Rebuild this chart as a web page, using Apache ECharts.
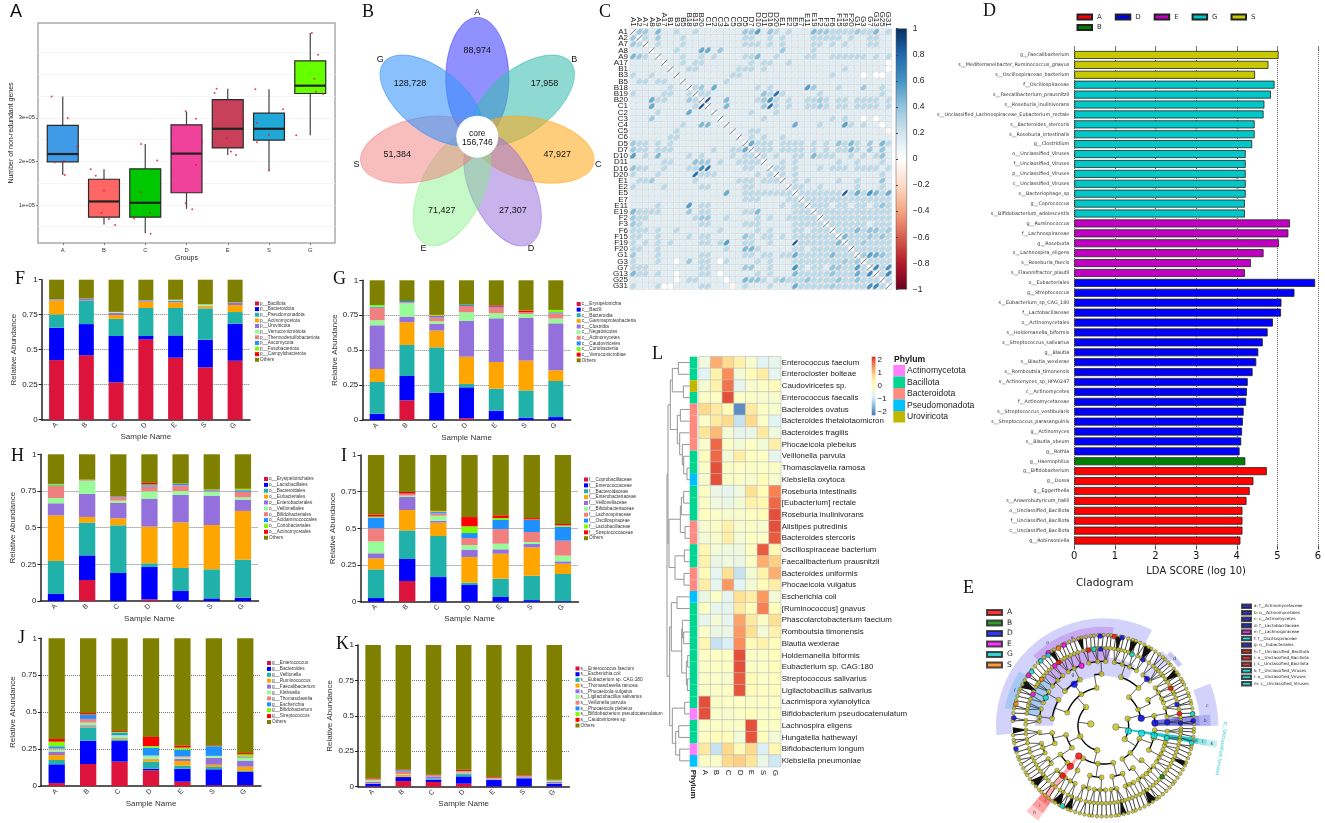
<!DOCTYPE html>
<html><head><meta charset="utf-8"><title>Multi-panel microbiome figure</title>
<script src="https://cdn.jsdelivr.net/npm/echarts@6/dist/echarts.min.js"></script>
<style>html,body{margin:0;background:#fff}#c{width:1325px;height:823px}</style></head>
<body><div id="c"></div>
<script>
// ---------- A: boxplots
const A_groups=['A','B','C','D','E','S','G'];
const A_low =[1.69,0.55,0.35,0.91,2.15,1.79,2.60];
const A_q1  =[1.99,0.72,0.72,1.28,2.31,2.49,3.56];
const A_med =[2.17,1.08,1.05,2.18,2.75,2.75,3.74];
const A_q3  =[2.83,1.59,1.83,2.84,3.42,3.11,4.31];
const A_high=[3.49,1.82,2.40,3.14,3.67,3.66,4.95];
const A_fill=['#3f9ae8','#ff6666','#00c800','#f0429a','#c8405a','#1fa8d8','#66ff00'];
const A_points=[[[-.27,3.49],[.12,3.0],[.35,2.34],[-.19,1.98],[.03,2.01],[.05,1.69]],
[[-.32,1.82],[-.2,1.67],[0,1.33],[-.06,.82],[.12,.68],[.27,.54]],
[[-.1,2.40],[.29,2.02],[-.11,1.29],[.12,.82],[-.27,.69],[.13,.34]],
[[-.02,3.15],[.23,2.98],[.38,2.45],[.23,1.92],[-.02,1.04],[.14,.9]],
[[-.27,3.67],[-.32,3.57],[.36,2.98],[-.03,2.53],[.08,2.23],[.2,2.15]],
[[-.33,3.66],[.34,3.2],[-.29,2.88],[0,2.61],[-.29,2.44],[0,1.79]],
[[.04,4.95],[.19,4.45],[.1,3.9],[.14,3.6],[.31,3.55],[-.34,2.6]]];
// ---------- B: flower
const B_names=['A','B','C','D','E','S','G'];
const B_counts=['88,974','17,958','47,927','27,307','71,427','51,384','128,728'];
const B_fill=['rgba(70,70,255,.6)','rgba(60,190,175,.58)','rgba(255,170,30,.58)','rgba(150,110,220,.52)','rgba(130,240,130,.45)','rgba(240,120,120,.48)','rgba(60,150,250,.6)'];
const B_core='156,746';
// ---------- C: correlation
const C_labels=['A1','A2','A7','A8','A9','A17','B1','B3','B5','B18','B19','B20','C1','C2','C3','C4','C5','C6','D5','D7','D10','D11','D16','D20','E1','E2','E5','E7','E11','E19','F2','F3','F6','F15','F19','F20','G1','G3','G7','G13','G25','G31'];
const C_rows=[
".331411211 2111111133 5142121114 3322223224 12",
"..21311121 1111111122 1121211112 2222121122 11",
"...1211121 1111111122 2121211112 2121211122 11",
"....111211 1111311111 1111311112 1111111111 11",
".....11121 1212111122 4112111122 1122222212 12",
"......1121 2211111112 1221121111 1111111111 10",
".......112 2111111222 1211111111 1111211111 10",
"........11 1111112211 1111111111 1121111010 01",
".........1 1111121111 1111111111 1111111111 11",
".......... 2312111111 2121111113 1112111311 21",
".......... .221111111 1123211111 2111111111 21",
".......... ..21131111 2312121122 3212212222 12",
".......... ...1131111 1312121122 3212212222 12",
".......... ....111112 1112111111 1111111111 11",
".......... .....11111 1211111111 1121211010 11",
".......... ......1111 1111113111 2111121211 01",
".......... .......112 2111111111 1111111111 1n",
".......... ........12 1211211111 1111111111 11",
".......... .........3 2221222212 1212232131 32",
".......... .......... 2221222212 1212232131 31",
".......... .......... .212112212 2221121212 21",
".......... .......... ..11212111 1112112111 21",
".......... .......... ...2212111 2122212222 12",
".......... .......... ....212111 1111111111 21",
".......... .......... .....12121 1112112111 31",
".......... .......... ......2211 2111112111 21",
".......... .......... .......222 2222224222 22",
".......... .......... ........22 2222222222 22",
".......... .......... .........2 2212212212 32",
".......... .......... .......... 2222222222 22",
".......... .......... .......... .222222222 22",
".......... .......... .......... ..22222212 22",
".......... .......... .......... ...2222222 22",
".......... .......... .......... ....222232 22",
".......... .......... .......... .....22322 22",
".......... .......... .......... ......2222 22",
".......... .......... .......... .......322 32",
".......... .......... .......... ........22 22",
".......... .......... .......... .........4 24",
".......... .......... .......... .......... 23",
".......... .......... .......... .......... .2"];
const C_levels={n:-.05,0:0,1:.14,2:.27,3:.36,4:.45,5:.55};
const C_strong=[[11,12,.85],[3,11,.5],[3,12,.5],[11,15,.45],[12,15,.45],[11,22,.6],[12,22,.75],[10,23,.75],[10,21,.4],[9,13,.5],[9,28,.55],[0,20,.55],[0,22,.4],[0,29,.45],[0,39,.45],[15,26,.5],[15,34,.55],[18,19,.5],[18,33,.4],[18,35,.45],[18,40,.45],[19,35,.45],[19,40,.4],[20,29,.45],[28,40,.4],[26,34,.85],[26,36,.5],[26,38,.6],[26,39,.45],[26,41,.5],[38,39,.65],[38,41,.6],[39,41,.65],[36,38,.55],[36,39,.5],[32,36,.45],[32,38,.4],[32,39,.4],[32,41,.35],[33,34,.45],[19,40,.4],[20,40,.4],[24,40,.4],[28,40,.4],[33,40,.4],[36,40,.4]];
const C_palette=['#67001F','#B2182B','#D6604D','#F4A582','#FDDBC7','#FFFFFF','#D1E5F0','#92C5DE','#4393C3','#2166AC','#053061'];
// ---------- D: LDA
const D_A=[['g__Bifidobacterium',4.74],['g__Dorea',4.41],['g__Eggerthella',4.32],['s__Anaerobutyricum_hallii',4.24],['o__Unclassified_Bacillota',4.14],['f__Unclassified_Bacillota',4.14],['c__Unclassified_Bacillota',4.14],['g__Robinsoniella',4.09]];
const D_B=[['g__Haemophilus',4.21]];
const D_D=[['o__Eubacteriales',5.93],['g__Streptococcus',5.42],['s__Eubacterium_sp_CAG_180',5.1],['f__Lactobacillaceae',5.09],['o__Actinomycetales',4.89],['s__Holdemanella_biformis',4.76],['s__Streptococcus_salivarius',4.64],['g__Blautia',4.53],['s__Blautia_wexlerae',4.48],['s__Romboutsia_timonensis',4.39],['s__Actinomyces_sp_HPA0247',4.27],['c__Actinomycetes',4.25],['f__Actinomycetaceae',4.23],['s__Streptococcus_vestibularis',4.17],['s__Streptococcus_parasanguinis',4.15],['g__Actinomyces',4.13],['s__Blautia_obeum',4.11],['g__Rothia',4.07]];
const D_E=[['g__Ruminococcus',5.31],['f__Lachnospiraceae',5.27],['g__Roseburia',5.04],['s__Lachnospira_eligens',4.66],['s__Roseburia_faecis',4.35],['s__Flavonifractor_plautii',4.2]];
const D_G=[['f__Oscillospiraceae',4.93],['s__Faecalibacterium_prausnitzii',4.84],['s__Roseburia_inulinivorans',4.68],['s__Unclassified_Lachnospiraceae_Eubacterium_rectale',4.66],['s__Bacteroides_stercoris',4.44],['s__Roseburia_intestinalis',4.44],['g__Clostridium',4.38],['o__Unclassified_Viruses',4.22],['f__Unclassified_Viruses',4.22],['p__Unclassified_Viruses',4.22],['c__Unclassified_Viruses',4.22],['s__Bacteriophage_sp',4.22],['g__Coprococcus',4.2],['s__Bifidobacterium_adolescentis',4.2]];
const D_S=[['g__Faecalibacterium',5.03],['s__Mediterraneibacter_Ruminococcus_gnavus',4.78],['s__Oscillospiraceae_bacterium',4.45]];
// ---------- E: cladogram (radius in tree units, angle in degrees anticlockwise from east)
const E_radii=[38,76,115,155,193,233,272];
const E_l0=[172,354];
const E_l1=[133,205,256,16,328];
const E_l2=[125,48,100,160,194,215,238,262,285,300,11,25,340,315];
const E_l3=[117,92,70,47,30,11,2,150,172,188,200,214,226,240,255,268,280,292,305,318,332,346,355,138];
const E_l4=[135,123,110,95,80,66,52,44,36,25,16,8,3,154,165,176,186,196,205,216,224,234,244,252,262,272,282,290,298,308,316,326,334,342,349,355,172,159,148,142,129,117,103,88,73,59,31,21,200,211,229,239,257,267,277,294,303,312,321,330,338,345];
const E_l5=[168,163,157,150,146,140,134,129,123,118,112,105,99,94,88,82,77,71,64,58,50,45,40,34,29,24,18,12,6,2,176,183,190,197,204,210,216,222,229,236,243,250,257,263,269,275,281,286,292,298,304,310,316,322,328,334,340,346,351,356,171,165,160,154,148,143,137,131,126,120,115,109,102,96,91,85,79,74,68,61,54,47,42,37,31,26,21,15,9,4,179,186,193,200,207,213,219,225,232,239,246,253,260,266,272,278,284,289,295,301,307,313,319,325,331,337,343,349,354,358];
const E_l6=[1,3,6,8,11,14,16,19,21,24,27,29,31,34,36,39,42,44,47,49,52,55,58,60,63,66,69,71,74,77,79,82,85,87,90,93,96,98,101,104,106,109,112,115,117,120,123,125,128,131,134,136,139,142,145,147,150,153,156,158,161,164,167,169,172,175,177,186,189,191,194,197,200,202,205,208,211,213,216,219,222,225,227,230,233,236,238,241,244,247,249,252,255,258,261,263,266,269,272,275,278,280,283,286,289,291,294,297,300,303,306,308,311,314,317,320,322,325,328,331,334,336,339,342,345,347,350,353,356,358];
// collapsed dense leaf fans: angle, half width in degrees
const E_fans=[[152.5,3],[70,2.5],[60,3],[36,2.5],[183,2],[220,3],[239,3],[247,2.5],[303,3],[80,2],[125,2],[105,2],[283,2],[335,2]];
const E_marked=[[152,125,'#0000ff'],[231,59,'#0000ff'],[192,47,'#0000ff'],[116,11,'#0000ff'],[155,3,'#0000ff'],[192,3,'#0000ff'],[232,2,'#0000ff'],[270,3,'#0000ff'],[230,92,'#0000ff'],[270,78,'#0000ff'],[269,92,'#0000ff'],[269,175,'#0000ff'],[230,16,'#0000ff'],[271,195,'#0000ff'],
[117,231,'#ff0000'],[157,231,'#ff0000'],[193,231,'#ff0000'],[231,101,'#ff0000'],[269,83,'#ff0000'],[232,125,'#ff0000'],[231,29,'#ff0000'],[231,9,'#ff0000'],
[191,110,'#ff00ff'],[231,156,'#ff00ff'],[231,129,'#ff00ff'],[274,127,'#ff00ff'],[270,146,'#ff00ff'],[269,116,'#ff00ff'],
[192,154,'#00e0e0'],[231,97,'#00e0e0'],[268,128,'#00e0e0'],[269,143,'#00e0e0'],[270,134,'#00e0e0'],[77,348,'#00e0e0'],[117,349,'#00e0e0'],[155,349,'#00e0e0'],[194,349,'#00e0e0'],[270,349,'#00e0e0'],[230,68,'#00e0e0'],[270,7.5,'#00e0e0'],[270,243,'#00e0e0'],
[231,143,'#ff8000'],[270,166,'#ff8000'],[268,120,'#ff8000'],[234,319,'#008000']];
// r0,r1,a0,a1,colour,letter
const E_clades=[[150,205,62,180,'#d2d2fa','g'],[275,322,63,185,'#d2d2fa','g'],[190,235,85,140,'#c8a8f0',''],[265,297,84,135,'#c8a8f0','e'],[193,235,140,172,'#a8c8f4',''],[270,300,147,170,'#a8c8f4','f'],
[290,345,0,21.5,'#d2d2fa','c'],[155,240,0,6,'#7070e0',''],[240,290,0,6,'#9090ee','a'],[290,322,0,6,'#b0b0f4','b'],[195,285,44,52,'#d8d8fa',''],[285,300,38,48,'#c8c8f6','d'],
[80,270,349,352.5,'#20c8c8',''],[270,290,349,352.5,'#60d8d8','m'],[290,315,349,352.5,'#90e4e4','l'],[315,345,349,352.5,'#c0f0f0','k'],
[117,270,229,233,'#ffb0b0',''],[270,295,228,235.5,'#ff8080','j'],[295,320,228,235.5,'#ffa0a0','i'],[320,345,228,235.5,'#ffc8c8','h']];
const E_key=[['A','#ff0000'],['B','#008000'],['D','#0000ff'],['E','#ff00ff'],['G','#00c8c8'],['S','#ff8000']];
const E_terms=[['a: f__Actinomycetaceae','#0000c8'],['b: o__Actinomycetales','#0000c8'],['c: c__Actinomycetes','#0000c8'],['d: f__Lactobacillaceae','#0000c8'],['e: f__Lachnospiraceae','#e000e0'],['f: f__Oscillospiraceae','#00d8d8'],['g: o__Eubacteriales','#0000c8'],['h: f__Unclassified_Bacillota','#e00000'],['i: o__Unclassified_Bacillota','#e00000'],['j: c__Unclassified_Bacillota','#e00000'],['k: f__Unclassified_Viruses','#00d8d8'],['l: o__Unclassified_Viruses','#00d8d8'],['m: c__Unclassified_Viruses','#00d8d8']];
// ---------- F-K: stacked bars (running tops of each segment per sample)
const samples=['A','B','C','D','E','S','G'];
const stackColors=['#dc143c','#0000ff','#20b2aa','#ffa500','#9370db','#98fb98','#f08080','#1e90ff','#7cfc00','#ff0000','#808000'];
const F_names=['p__Bacillota','p__Bacteroidota','p__Pseudomonadota','p__Actinomycetota','p__Uroviricota','p__Verrucomicrobiota','p__Thermodesulfobacteriota','p__Ascomycota','p__Fusobacteriota','p__Campylobacterota','Others'];
const F_tops=[[.426,.657,.752,.852,.86,.861,.861,.861,.861,.861,1],[.46,.683,.85,.851,.864,.865,.865,.865,.865,.865,1],[.267,.598,.72,.748,.764,.769,.77,.77,.77,.77,1],[.574,.598,.798,.843,.852,.853,.853,.853,.853,.853,1],[.443,.602,.798,.838,.848,.856,.857,.857,.857,.857,1],[.374,.571,.795,.81,.814,.824,.824,.824,.824,.824,1],[.421,.686,.769,.819,.836,.837,.837,.837,.837,.837,1]];
const G_names=['c__Erysipelotrichia','c__Bacilli','c__Bacteroidia','c__Gammaproteobacteria','c__Clostridia','c__Negativicutes','c__Actinomycetes','c__Caudoviricetes','c__Coriobacteriia','c__Verrucomicrobiae','Others'];
const G_tops=[[0,.045,.272,.365,.678,.714,.804,.811,.823,.823,1],[.141,.315,.537,.70,.74,.835,.842,.852,.852,.852,1],[0,.196,.52,.64,.687,.706,.737,.745,.752,.757,1],[.012,.234,.258,.453,.709,.771,.816,.823,.825,.825,1],[0,.067,.224,.415,.728,.764,.804,.811,.811,.821,1],[0,.017,.212,.425,.73,.759,.773,.773,.773,.783,1],[0,.021,.279,.356,.692,.726,.764,.771,.788,.788,1]];
const H_names=['o__Erysipelotrichales','o__Lactobacillales','o__Bacteroidales','o__Eubacteriales','o__Enterobacterales','o__Veillonellales','o__Bifidobacteriales','o__Acidaminococcales','o__Coriobacteriales','o__Actinomycetales','Others'];
const H_tops=[[0,.048,.273,.584,.666,.702,.786,.79,.798,.798,1],[.143,.311,.534,.573,.73,.82,.824,.825,.826,.827,1],[0,.191,.516,.564,.668,.684,.709,.714,.714,.714,1],[.011,.232,.257,.507,.698,.748,.78,.789,.794,.805,1],[0,.068,.225,.536,.723,.75,.789,.798,.8,.8,1],[0,.018,.216,.518,.718,.745,.752,.757,.76,.76,1],[0,.023,.282,.614,.691,.707,.745,.755,.764,.768,1]];
const I_names=['f__Coprobacillaceae','f__Enterococcaceae','f__Bacteroidaceae','f__Enterobacteriaceae','f__Veillonellaceae','f__Bifidobacteriaceae','f__Lachnospiraceae','f__Oscillospiraceae','f__Lactobacillaceae','f__Streptococcaceae','Others'];
const I_tops=[[0,.025,.22,.295,.33,.411,.5,.573,.58,.595,1],[.141,.291,.486,.625,.714,.723,.734,.737,.737,.748,1],[0,.168,.448,.539,.552,.586,.602,.611,.618,.623,1],[0,.114,.13,.305,.355,.386,.434,.468,.514,.577,1],[0,.032,.157,.327,.357,.395,.495,.557,.57,.589,1],[0,.011,.177,.37,.393,.407,.475,.557,.56,.57,1],[0,.004,.189,.259,.275,.314,.416,.511,.52,.53,1]];
const J_names=['g__Enterococcus','g__Bacteroides','g__Veillonella','g__Ruminococcus','g__Faecalibacterium','g__Klebsiella','g__Thomasclavelia','g__Escherichia','g__Bifidobacterium','g__Streptococcus','Others'];
const J_tops=[[.02,.147,.176,.21,.233,.248,.255,.269,.30,.318,1],[.149,.307,.397,.402,.411,.429,.454,.481,.484,.494,1],[.165,.305,.316,.323,.328,.343,.344,.359,.366,.372,1],[.106,.117,.165,.181,.185,.205,.206,.26,.271,.332,1],[.029,.117,.138,.169,.183,.194,.201,.246,.26,.275,1],[.005,.113,.129,.144,.192,.203,.204,.269,.27,.275,1],[.005,.097,.102,.131,.172,.19,.196,.2,.214,.223,1]];
const K_names=['s__Enterococcus faecium','s__Escherichia coli','s__Eubacterium sp. CAG:180','s__Thomasclavelia ramosa','s__Phocaeicola vulgatus','s__Ligilactobacillus salivarius','s__Veillonella parvula','s__Phocaeicola plebeius','s__Bifidobacterium pseudocatenulatum','s__Caudoviricetes sp.','Others'];
const K_tops=[[.003,.021,.022,.025,.035,.045,.049,.05,.052,.059,1],[.04,.068,.07,.082,.083,.088,.106,.115,.116,.122,1],[.033,.049,.056,.057,.073,.074,.078,.079,.08,.085,1],[.021,.073,.089,.09,.094,.099,.106,.108,.11,.12,1],[.002,.047,.05,.052,.056,.057,.061,.062,.063,.068,1],[.002,.059,.062,.063,.068,.069,.072,.073,.074,.08,1],[.002,.019,.022,.023,.034,.04,.045,.046,.047,.049,1]];
// ---------- L: heatmap
const L_cols=['A','B','C','D','E','S','G'];
const L_rows=['Enterococcus faecium','Enterocloster bolteae','Caudoviricetes sp.','Enterococcus faecalis','Bacteroides ovatus','Bacteroides thetaiotaomicron','Bacteroides fragilis','Phocaeicola plebeius','Veillonella parvula','Thomasclavelia ramosa','Klebsiella oxytoca','Roseburia intestinalis','[Eubacterium] rectale','Roseburia inulinivorans','Alistipes putredinis','Bacteroides stercoris','Oscillospiraceae bacterium','Faecalibacterium prausnitzii','Bacteroides uniformis','Phocaeicola vulgatus','Escherichia coli','[Ruminococcus] gnavus','Phascolarctobacterium faecium','Romboutsia timonensis','Blautia wexlerae','Holdemanella biformis','Eubacterium sp. CAG:180','Streptococcus salivarius','Ligilactobacillus salivarius','Lacrimispora xylanolytica','Bifidobacterium pseudocatenulatum','Lachnospira eligens','Hungatella hathewayi','Bifidobacterium longum','Klebsiella pneumoniae'];
const L_values=[[-.4,1.2,.8,.3,-.2,-.7,-.6],[-.7,.3,1.5,-.3,.1,.4,-.6],[-.2,.3,1.7,-.6,-.2,-.1,.1],[-.1,-.05,2,-.1,-.1,-.2,-.2],[.8,.5,.1,-2,.5,-.05,-.2],[-.1,.5,.8,-1,.8,-.1,-.7],[.6,1.1,-.3,-.6,-.5,.5,-.4],[-.2,1.8,-.1,-.3,-.05,-.3,.4],[.05,1.8,-.3,.4,-.05,-.05,-.6],[-.1,2,-.1,-.05,-.1,-.1,-.1],[-.2,2,-.1,-.1,-.2,.1,-.2],[-.05,-.5,-.6,-.4,.7,.1,1.6],[-.1,-.4,-.5,-.3,.3,.2,1.8],[0,-.15,-.2,-.2,-.05,.1,2],[-.2,-.1,.3,-.2,-.1,-.2,2],[-.3,-.2,.4,-.3,-.05,-.1,1.9],[.2,-.3,-.4,-.4,-.05,1.9,.2],[.3,-.5,-.4,-.5,-.1,1.2,.9],[.1,-.6,.7,-1,-.3,.3,1.2],[.4,-.6,1.4,-.7,-.3,.1,.4],[-.5,-.1,-.6,.7,.4,1.4,-.3],[-.05,-.6,-.6,.5,.05,1.6,.05],[-.6,-.3,-.6,1.3,.5,-.1,.7],[-.1,-.5,-.5,1.4,.7,-.3,.3],[.2,-1,-.8,1.5,.1,.3,.05],[-.05,-.05,-.05,2,-.1,-.1,.05],[-.1,-.05,-.05,2,-.1,-.1,.05],[-.1,-.15,-.2,1.9,.1,-.1,.03],[-.1,-.1,-.05,1.95,.1,-.05,.05],[2,-.1,-.05,-.05,-.1,-.05,-.05],[2,-.15,-.2,-.05,.05,-.1,-.05],[-.1,-.1,-.1,-.1,2,-.05,-.05],[-.05,.1,.05,-.3,1.95,.05,-.3],[.5,-1,.8,.1,.8,-.8,.2],[-.1,-.15,.8,.9,.6,-.5,-.9]];
const L_phylumNames=['Actinomycetota','Bacillota','Bacteroidota','Pseudomonadota','Uroviricota'];
const L_phylumColors=['#ff7fff','#00d68f','#ff8a80','#00c0ff','#c0b800'];
const L_rowPhylum=[1,1,4,1,2,2,2,2,1,1,3,1,1,1,2,2,1,1,2,2,3,1,1,1,1,1,1,1,1,1,0,1,1,0,3];
const L_heatColors=['#4575b4','#91bfdb','#e0f3f8','#ffffbf','#fee090','#fc8d59','#d73027'];
// tree: [merge height, child, child]; numbers are 1-based rows
const L_tree=[68,[65,[58,[52,[34,1,2],[19,3,4]],[37,[28,5,6],[30,7,[22,8,[18,9,[8,10,11]]]]]],[62,[28,[25,[18,12,13],14],[14,15,16]],[44,[16,17,18],[17,19,20]]]],
 [60,[55,[38,21,22],[24,[22,23,[18,24,25]],[10,[6,26,27],[7,28,29]]]],[52,[15,30,31],[42,[33,32,33],[30,34,35]]]]];

// ---------- option scaffolding
const SANS='"Liberation Sans",Arial,sans-serif', SERIF='"Liberation Serif",serif', DJ='"DejaVu Sans",sans-serif';
const opt={animation:false,backgroundColor:'#fff',textStyle:{fontFamily:SANS},grid:[],xAxis:[],yAxis:[],series:[],legend:[],title:[],visualMap:[],
 polar:[{center:[1103.3,725.7],radius:115}],
 angleAxis:[{polarIndex:0,min:0,max:360,startAngle:0,clockwise:false,show:false}],
 radiusAxis:[{polarIndex:0,min:0,max:345,show:false}]};
function addGrid(rect,x,y){const i=opt.grid.length;opt.grid.push(rect);
 opt.xAxis.push(Object.assign({gridIndex:i},x));opt.yAxis.push(Object.assign({gridIndex:i},y));return i;}
function text(s,x,y,size,fam,extra){opt.title.push({text:s,left:x,top:y,padding:0,textStyle:Object.assign({fontSize:size,fontFamily:fam||SANS,fontWeight:'normal',color:'#222'},extra||{})});}
function legend(prefix,names,o){opt.legend.push(Object.assign({data:names.map(n=>prefix+'|'+n),formatter:n=>n.split('|')[1],selectedMode:false,padding:0,icon:'rect',orient:'vertical'},o));}
const HIDE={show:false};
const lateAxes=[];

// panel letters
[['A',10,3,SANS],['B',362,3,SERIF],['C',599,3,SERIF],['D',983,2,SERIF],['E',963,579,SERIF],['F',15,270,SERIF],['G',333,270,SERIF],['H',11,447,SERIF],['I',341,447,SERIF],['J',18,629,SERIF],['K',336,635,SERIF],['L',652,345,SERIF]]
 .forEach(l=>text(l[0],l[1],l[2],18,l[3],{color:'#111'}));

// ---------- A
(function(){
 const ticks=[1,2,3,4,5,6,7];
 const g=addGrid({left:38,top:23,width:297,height:220,show:true,borderColor:'#aaa',borderWidth:1.5,backgroundColor:'#fff'},
  {type:'value',min:.4,max:7.6,splitLine:HIDE,axisLine:HIDE,axisTick:{customValues:ticks,length:2,lineStyle:{color:'#777'}},name:'Groups',nameLocation:'middle',nameGap:12,nameTextStyle:{fontSize:7,color:'#222'},
   axisLabel:{customValues:ticks,formatter:v=>A_groups[v-1],fontSize:5.8,color:'#333',margin:4}},
  {type:'value',min:.126,max:5.18,splitLine:HIDE,axisLine:HIDE,axisTick:{customValues:[1,2,3],length:2,lineStyle:{color:'#777'}},name:'Number of non-redundant genes',nameLocation:'middle',nameGap:19,nameTextStyle:{fontSize:7,color:'#222'},
   axisLabel:{customValues:[1,2,3],formatter:v=>v+'e+05',fontSize:5.8,color:'#333',margin:3}});
 opt.series.push({type:'custom',xAxisIndex:g,yAxisIndex:g,z:3,encode:{x:0,y:[1,2,3,4,5]},
  data:A_groups.map((n,i)=>[i+1,A_low[i],A_q1[i],A_med[i],A_q3[i],A_high[i]]),
  renderItem(p,api){const x=api.value(0),c=v=>api.coord([x,v]),w=api.size([.75,0])[0]/2;
   const lo=c(api.value(1)),q1=c(api.value(2)),m=c(api.value(3)),q3=c(api.value(4)),hi=c(api.value(5));
   const ln=(a,b,lw,col)=>({type:'line',shape:{x1:a[0],y1:a[1],x2:b[0],y2:b[1]},style:{stroke:col,lineWidth:lw}});
   return {type:'group',children:[ln(lo,q1,1.2,'#444'),ln(q3,hi,1.2,'#444'),
    {type:'rect',shape:{x:q3[0]-w,y:q3[1],width:2*w,height:q1[1]-q3[1]},style:{fill:A_fill[p.dataIndex],stroke:'#2a2a2a',lineWidth:1.2}},
    {type:'line',shape:{x1:m[0]-w,y1:m[1],x2:m[0]+w,y2:m[1]},style:{stroke:'#222',lineWidth:2.2}}]};}});
 const pts=[];A_points.forEach((l,i)=>l.forEach(q=>pts.push([i+1+q[0],q[1]])));
 opt.series.push({type:'scatter',xAxisIndex:g,yAxisIndex:g,z:4,symbolSize:2,itemStyle:{color:'#f01030'},data:pts,
  markLine:{silent:true,symbol:'none',label:HIDE,lineStyle:{color:'#f4f4f4',type:'solid',width:1},z:1,data:[.5,1,1.5,2,2.5,3,3.5,4,4.5].map(v=>({yAxis:v}))}});
})();

// ---------- B
(function(){
 const g=addGrid({left:340,top:0,width:290,height:280},{type:'value',min:-137.3,max:152.7,show:false},{type:'value',min:-143.3,max:136.7,show:false});
 const th=i=>i*2*Math.PI/7;
 opt.series.push({type:'custom',xAxisIndex:g,yAxisIndex:g,z:2,encode:{x:0,y:1},data:B_names.map(()=>[0,0]),
  renderItem(p,api){const c=api.coord([0,0]),t=th(p.dataIndex);
   return {type:'ellipse',x:c[0]+58.3*Math.sin(t),y:c[1]-58.3*Math.cos(t),rotation:-t,shape:{cx:0,cy:0,rx:31.5,ry:61},style:{fill:B_fill[p.dataIndex],stroke:B_fill[p.dataIndex],lineWidth:1}};}});
 opt.series.push({type:'custom',xAxisIndex:g,yAxisIndex:g,z:3,encode:{x:0,y:1},data:B_names.map(()=>[0,0]),
  renderItem(p,api){const c=api.coord([0,0]),t=th(p.dataIndex),s=Math.sin(t),k=Math.cos(t),i=p.dataIndex,R=(i==0||i==1||i==6)?86:82;
   const tx=(r,str)=>({type:'text',x:c[0]+r*s,y:c[1]-r*k,style:{text:str,fill:'#111',font:'9px '+SANS,textAlign:'center',textVerticalAlign:'middle'}});
   return {type:'group',children:[tx(R,B_counts[i]),tx(124,B_names[i])]};}});
 opt.series.push({type:'custom',xAxisIndex:g,yAxisIndex:g,z:4,encode:{x:0,y:1},data:[[0,0]],
  renderItem(p,api){const c=api.coord([0,0]);return {type:'group',children:[{type:'circle',shape:{cx:c[0],cy:c[1],r:21},style:{fill:'#fff'}},
   {type:'text',x:c[0],y:c[1]+1,style:{text:'core\n'+B_core,fill:'#111',font:'8.5px '+SANS,textAlign:'center',textVerticalAlign:'middle'}}]};}});
})();

// ---------- C
(function(){
 const n=C_labels.length,M=[];for(let i=0;i<n;i++)M.push(new Array(n).fill(.14));
 C_rows.forEach((r,i)=>{const s=r.replace(/ /g,'');for(let j=i+1;j<n;j++){const ch=s[j];if(ch===undefined||ch==='.')continue;M[i][j]=M[j][i]=C_levels[ch];}});
 C_strong.forEach(t=>{M[t[0]][t[1]]=M[t[1]][t[0]]=t[2];});
 for(let i=0;i<n;i++)M[i][i]=1;
 const col=v=>{const f=(v+1)*5,a=Math.min(9,Math.floor(f)),t=f-a;const h=s=>[1,3,5].map(k=>parseInt(s.substr(k,2),16));const A=h(C_palette[a]),B=h(C_palette[a+1]);return 'rgb('+A.map((x,k)=>Math.round(x+(B[k]-x)*t)).join(',')+')';};
 const g=addGrid({left:630,top:28.7,width:261.7,height:260.6},
  {type:'category',data:C_labels,position:'top',axisTick:HIDE,axisLine:HIDE,axisLabel:{interval:0,rotate:90,fontSize:8,margin:2,color:'#222'}},
  {type:'category',data:C_labels,inverse:true,axisTick:HIDE,axisLine:HIDE,axisLabel:{interval:0,fontSize:8,margin:2,color:'#222'}});
 const d=[];for(let j=0;j<n;j++)for(let i=0;i<n;i++)d.push([i,j,M[j][i]]);
 opt.series.push({type:'custom',xAxisIndex:g,yAxisIndex:g,z:2,encode:{x:0,y:1},data:d,
  renderItem(p,api){const v=api.value(2),c=api.coord([api.value(0),api.value(1)]),sz=api.size([1,1]),w=sz[0],h=sz[1],s=w/2*.9,r=Math.abs(v),cl=col(v);
   return {type:'group',children:[{type:'rect',shape:{x:c[0]-w/2,y:c[1]-h/2,width:w,height:h},style:{fill:'#fff',stroke:'#cfcfcf',lineWidth:.6}},
    {type:'ellipse',x:c[0],y:c[1],rotation:v>=0?Math.PI/4:-Math.PI/4,shape:{cx:0,cy:0,rx:s*Math.sqrt(1+r),ry:s*Math.sqrt(1-r)},style:{fill:cl,stroke:cl,lineWidth:.4}}]};}});
 const stops=C_palette.map((c,i)=>({offset:1-i/10,color:c}));
 addGrid({left:896,top:28.7,width:10.7,height:260.6,show:true,borderColor:'#555',borderWidth:.5,backgroundColor:new echarts.graphic.LinearGradient(0,0,0,1,stops)},
  {type:'value',min:0,max:1,show:false},
  {type:'value',min:-1,max:1,interval:.2,position:'right',splitLine:HIDE,axisLine:HIDE,axisTick:{length:2,lineStyle:{color:'#444'}},
   axisLabel:{fontSize:8.5,margin:6,color:'#222',formatter:v=>{const x=Math.round(v*10)/10;return x<0?'\u2212'+(-x):''+x;}}});
})();

// ---------- D
(function(){
 const groups=[['S',D_S,'#c8c800'],['G',D_G,'#00c8c8'],['E',D_E,'#c000c0'],['D',D_D,'#0000ff'],['B',D_B,'#008000'],['A',D_A,'#ff0000']];
 const cats=[];groups.forEach(g=>g[1].forEach(r=>cats.push(r[0])));
 const g=addGrid({left:1074.3,top:50,width:243.7,height:495.5},
  {type:'value',min:0,max:6,interval:1,axisLine:HIDE,axisTick:{show:true,length:4,lineStyle:{color:'#444'}},splitLine:{lineStyle:{type:'dotted',color:'#666'}},
   axisLabel:{fontSize:10,fontFamily:DJ,color:'#111',margin:6},name:'LDA SCORE (log 10)',nameLocation:'middle',nameGap:20,nameTextStyle:{fontSize:10,fontFamily:DJ,color:'#222'}},
  {type:'category',data:cats,inverse:true,axisTick:HIDE,axisLine:HIDE,axisLabel:{interval:0,fontSize:4.85,fontFamily:DJ,margin:5,color:'#333'}});
 lateAxes.push({gridIndex:g,type:'value',position:'top',min:0,max:6,interval:1,axisLine:HIDE,axisTick:{show:true,length:4,lineStyle:{color:'#777'}},axisLabel:HIDE,splitLine:HIDE});
 groups.forEach(gr=>{const m=new Map(gr[1]);
  opt.series.push({type:'bar',name:'D|'+gr[0],xAxisIndex:g,yAxisIndex:g,barWidth:8,barGap:'-100%',z:3,itemStyle:{color:gr[2],borderColor:'#222',borderWidth:.8},
   data:cats.map(c=>m.has(c)?m.get(c):'-')});});
 legend('D',['A','D','E','G','S'],{orient:'horizontal',left:1076.5,top:13.5,itemWidth:14.5,itemHeight:5,itemGap:13,width:190,textStyle:{fontSize:7,fontFamily:DJ,color:'#333'}});
 legend('D',['B'],{orient:'horizontal',left:1076.5,top:24,itemWidth:14.5,itemHeight:5,textStyle:{fontSize:7,fontFamily:DJ,color:'#333'}});
})();

// ---------- E
(function(){
 const levels=[E_l0,E_l1,E_l2,E_l3,E_l4,E_l5,E_l6];
 const wrap=a=>{let d=((a+180)%360+360)%360-180;return d;};
 const edges=[];
 for(let k=1;k<levels.length;k++){const rp=E_radii[k-1],rc=E_radii[k],kids={};
  levels[k].forEach(a=>{let best=levels[k-1][0];levels[k-1].forEach(b=>{if(Math.abs(wrap(a-b))<Math.abs(wrap(a-best)))best=b;});(kids[best]=kids[best]||[]).push(a);});
  Object.keys(kids).forEach(ks=>{const ap=+ks,ch=kids[ks];
   if(k<=4){const rel=ch.map(a=>wrap(a-ap));const lo=Math.min(0,...rel),hi=Math.max(0,...rel),arc=[];
     for(let t=lo;t<hi;t+=1.5)arc.push([rc,ap+t]);arc.push([rc,ap+hi]);
     edges.push({pts:arc,w:k<=3?1.4:1.2,c:'#000'});
     edges.push({pts:[[rp,ap],[rc,ap]],w:.8,c:'#333'});
   } else ch.forEach(a=>edges.push({pts:[[rp,ap],[rc,a]],w:k==6?.8:.8,c:k==6?'#111':'#333'}));
  });}
 opt.series.push({type:'custom',coordinateSystem:'polar',polarIndex:0,z:1,data:E_clades.map(c=>[c[0],c[2]]),
  renderItem(p,api){const q=E_clades[p.dataIndex],cs=p.coordSys,sc=cs.r/345,rad=Math.PI/180;const mid=(q[2]+q[3])/2*rad,rm=(q[0]+q[1])/2*sc;
   return {type:'group',children:[{type:'sector',shape:{cx:cs.cx,cy:cs.cy,r0:q[0]*sc,r:q[1]*sc,startAngle:-q[3]*rad,endAngle:-q[2]*rad,clockwise:true},style:{fill:q[4]}},
    {type:'text',x:cs.cx+rm*Math.cos(mid),y:cs.cy-rm*Math.sin(mid),style:{text:q[5],fill:'#334',font:'4.5px '+DJ,textAlign:'center',textVerticalAlign:'middle'}}]};}});
 opt.series.push({type:'custom',coordinateSystem:'polar',polarIndex:0,z:2,data:edges.map((e,i)=>[i,0]),
  renderItem(p,api){const e=edges[p.dataIndex];return {type:'polyline',shape:{points:e.pts.map(q=>api.coord([q[0],((q[1]%360)+360)%360]))},style:{stroke:e.c,lineWidth:e.w,fill:null}};}});
 opt.series.push({type:'custom',coordinateSystem:'polar',polarIndex:0,z:2,data:E_fans.map(f=>[233,f[0]]),
  renderItem(p,api){const f=E_fans[p.dataIndex],m=a=>((a%360)+360)%360;return {type:'polygon',shape:{points:[api.coord([225,m(f[0])]),api.coord([272,m(f[0]-f[1])]),api.coord([272,m(f[0]+f[1])])]},style:{fill:'#111'}};}});
 levels.forEach((l,k)=>{opt.series.push({type:'scatter',coordinateSystem:'polar',polarIndex:0,z:3,symbolSize:[6.5,5.5,5,5,4.5,4,3.6][k],itemStyle:{color:'#c8c41c',borderColor:'#333',borderWidth:.5},data:l.map(a=>[E_radii[k],a])});});
 opt.series.push({type:'scatter',coordinateSystem:'polar',polarIndex:0,z:4,symbolSize:v=>v[0]<160?6.5:(v[0]<200?5.5:4.8),itemStyle:{color:p=>E_marked[p.dataIndex][2],borderColor:'#222',borderWidth:.6},data:E_marked.map(m=>[m[0],m[1]])});
 opt.series.push({type:'custom',coordinateSystem:'polar',polarIndex:0,z:4,data:[[361,349]],
  renderItem(p,api){const c=api.coord([361,349]);return {type:'text',x:c[0],y:c[1],rotation:-99.6*Math.PI/180,style:{text:'p__Unclassified_Viruses',fill:'#20c8c8',font:'4.6px '+DJ,textAlign:'center',textVerticalAlign:'middle'}};}});
 text('Cladogram',1076,578,10.5,DJ,{color:'#222'});
 E_key.forEach(k=>opt.series.push({type:'scatter',name:'E|'+k[0],coordinateSystem:'polar',polarIndex:0,data:[],itemStyle:{color:k[1],borderColor:'#222',borderWidth:.7}}));
 E_terms.forEach(k=>opt.series.push({type:'scatter',name:'T|'+k[0],coordinateSystem:'polar',polarIndex:0,data:[],itemStyle:{color:k[1],borderColor:'#222',borderWidth:.5}}));
 legend('E',E_key.map(k=>k[0]),{left:986,top:608,itemWidth:15,itemHeight:5,itemGap:1.5,textStyle:{fontSize:7.5,lineHeight:9,fontFamily:DJ,color:'#222'}});
 legend('T',E_terms.map(k=>k[0]),{left:1241,top:603.5,itemWidth:9,itemHeight:3.6,itemGap:.85,textStyle:{fontSize:4.1,lineHeight:5,fontFamily:DJ,color:'#222',padding:[0,0,0,-2]}});
})();

// ---------- F-K
function stackPanel(p,names,tops,lx,ly,pitch){
 const g=addGrid({left:p.l,top:p.t,width:p.r-p.l,height:p.b-p.t},
  {type:'category',data:samples,axisLine:{lineStyle:{color:'#222',width:1.5}},axisTick:{length:3,lineStyle:{color:'#222',width:1},alignWithLabel:true},
   axisLabel:{rotate:45,fontSize:7,margin:4,color:'#333'},name:'Sample Name',nameLocation:'middle',nameGap:8,nameTextStyle:{fontSize:8,color:'#333'}},
  {type:'value',min:0,max:1,interval:.25,axisLine:{show:true,lineStyle:{color:'#222',width:1.5}},axisTick:{show:true,length:3,lineStyle:{color:'#222',width:1}},
   splitLine:{show:true,showMinLine:false,showMaxLine:false,lineStyle:{type:'dotted',color:'#777',width:1}},
   axisLabel:{fontSize:8,color:'#222',margin:4,formatter:v=>''+v},name:'Relative Abundance',nameLocation:'middle',nameGap:24,nameTextStyle:{fontSize:8,color:'#333'}});
 const pre=p.id;
 names.forEach((n,s)=>{opt.series.push({type:'bar',name:pre+'|'+n,xAxisIndex:g,yAxisIndex:g,stack:pre,barWidth:p.w,z:3,itemStyle:{color:stackColors[s]},
   data:tops.map(r=>r[s]-(s?r[s-1]:0))});});
 legend(pre,names,{left:lx,top:ly,itemWidth:4,itemHeight:4,itemGap:pitch-5,textStyle:{fontSize:4.7,lineHeight:5,color:'#333',padding:[0,0,0,-4]}});
}
stackPanel({id:'F',l:41.7,r:250,t:279.7,b:419.7,w:15},F_names,F_tops,255,301,5.63);
stackPanel({id:'G',l:362.3,r:570.7,t:280.3,b:420,w:15},G_names,G_tops,576.7,301.5,5.63);
stackPanel({id:'H',l:40.4,r:258.5,t:454.3,b:601,w:16.3},H_names,H_tops,264,476.5,5.87);
stackPanel({id:'I',l:360.5,r:578.5,t:455,b:601.7,w:16.3},I_names,I_tops,584,477,5.87);
stackPanel({id:'J',l:41,r:261,t:638.3,b:786,w:16.3},J_names,J_tops,267,660.5,5.9);
stackPanel({id:'K',l:358,r:569.4,t:645,b:786.7,w:15.5},K_names,K_tops,575.5,666,5.7);

// ---------- L
(function(){
 const top=356.7,h=410;
 const g=addGrid({left:699,top:top,width:81.7,height:h},
  {type:'category',data:L_cols,axisTick:HIDE,axisLine:HIDE,axisLabel:{rotate:-90,fontSize:8,margin:3,color:'#222',interval:0},splitLine:HIDE},
  {type:'category',data:L_rows,inverse:true,position:'right',axisTick:HIDE,axisLine:HIDE,axisLabel:{interval:0,fontSize:7.9,margin:1,color:'#222'},splitLine:HIDE});
 const cells=[];L_values.forEach((r,j)=>r.forEach((v,i)=>cells.push([i,j,v])));
 opt.visualMap.push({type:'continuous',show:false,min:-2.25,max:2.25,dimension:2,seriesIndex:opt.series.length,inRange:{color:L_heatColors}});
 opt.series.push({type:'heatmap',xAxisIndex:g,yAxisIndex:g,data:cells,z:2,itemStyle:{borderColor:'#bdbdbd',borderWidth:.6}});
 const gp=addGrid({left:689.7,top:top,width:7.6,height:h},
  {type:'category',data:['Phylum'],axisTick:HIDE,axisLine:HIDE,axisLabel:{rotate:-90,fontSize:8,margin:3,color:'#222',fontWeight:'bold',interval:0}},
  {type:'category',data:L_rows,inverse:true,axisTick:HIDE,axisLine:HIDE,axisLabel:HIDE});
 L_phylumNames.forEach((n,k)=>{const d=[];L_rowPhylum.forEach((q,j)=>{if(q===k)d.push([0,j]);});
  opt.series.push({type:'custom',name:'L|'+n,xAxisIndex:gp,yAxisIndex:gp,encode:{x:0,y:1},z:2,itemStyle:{color:L_phylumColors[k]},data:d,
   renderItem(p,api){const c=api.coord([api.value(0),api.value(1)]),s=api.size([1,1]);return {type:'rect',shape:{x:c[0]-s[0]/2,y:c[1]-s[1]/2,width:s[0],height:s[1]},style:{fill:L_phylumColors[k]}};}});});
 legend('L',L_phylumNames,{left:893.3,top:365,itemWidth:11.7,itemHeight:11.5,itemGap:0,textStyle:{fontSize:8.6,color:'#222',padding:[0,0,0,-3]}});
 text('Phylum',894,355.5,8.6,SANS,{fontWeight:'bold',color:'#111'});
 // dendrogram
 const segs=[];(function walk(n){if(typeof n==='number')return {y:n-.5,h:0};const a=walk(n[1]),b=walk(n[2]);segs.push([a.h,a.y,n[0],a.y],[b.h,b.y,n[0],b.y],[n[0],a.y,n[0],b.y]);return {y:(a.y+b.y)/2,h:n[0]};})(L_tree);
 const gd=addGrid({left:666,top:top,width:23.7,height:h},{type:'value',min:0,max:71,inverse:true,show:false},{type:'value',min:0,max:35,inverse:true,show:false});
 opt.series.push({type:'custom',xAxisIndex:gd,yAxisIndex:gd,z:2,encode:{x:[0,2],y:[1,3]},data:segs,
  renderItem(p,api){const a=api.coord([api.value(0),api.value(1)]),b=api.coord([api.value(2),api.value(3)]);return {type:'line',shape:{x1:a[0],y1:a[1],x2:b[0],y2:b[1]},style:{stroke:'#8a8a8a',lineWidth:.9}};}});
 // colour key
 const stops=L_heatColors.map((c,i)=>({offset:1-i/6,color:c}));
 addGrid({left:871.7,top:356.7,width:3.8,height:58.6,show:true,borderWidth:0,backgroundColor:new echarts.graphic.LinearGradient(0,0,0,1,stops)},
  {type:'value',min:0,max:1,show:false},
  {type:'value',min:-2.25,max:2.25,position:'right',splitLine:HIDE,axisLine:HIDE,axisTick:HIDE,
   axisLabel:{customValues:[-2,-1,0,1,2],fontSize:8,margin:2,color:'#222',formatter:v=>v<0?'\u2212'+(-v):''+v}});
})();
lateAxes.forEach(a=>opt.xAxis.push(a));

const chart=echarts.init(document.getElementById('c'),null,{renderer:'canvas'});
chart.setOption(opt);
</script></body></html>
